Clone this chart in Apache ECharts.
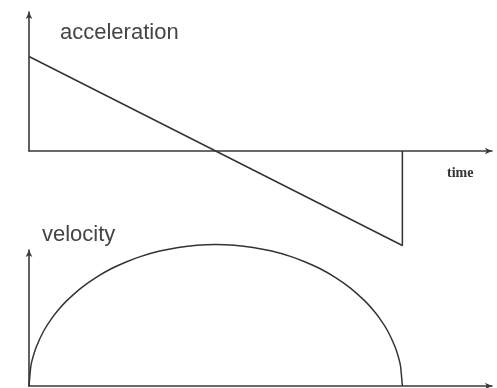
<!DOCTYPE html>
<html lang="en">
<head>
    <meta charset="UTF-8">
    <title>acceleration / velocity</title>
    <script src="https://cdn.jsdelivr.net/npm/echarts@6/dist/echarts.min.js"></script>
</head>
<body style="margin:0;background:#fff">
<div id="pic1" style="width:497px;height:388px"></div>
<script>
    // data (time 0..100)
    var accelTime = [0, 100, 100];
    var accelValue = [68, -68, 0];
    var velTime = [0, 0.5, 1, 2, 4, 6, 8, 10, 14, 18, 22, 26, 30, 35, 40, 45, 50,
        55, 60, 65, 70, 74, 78, 82, 86, 90, 92, 94, 96, 98, 99, 99.5, 100];
    var velValue = [0, 14.7, 20.7, 29.1, 40.8, 49.4, 56.4, 62.4, 72.2, 79.9, 86.2, 91.2, 95.3, 99.2, 101.9, 103.5, 104,
        103.5, 101.9, 99.2, 95.3, 91.2, 86.2, 79.9, 72.2, 62.4, 56.4, 49.4, 40.8, 29.1, 20.7, 14.7, 0];
    var titles = ['acceleration', 'velocity'];
    var xName = 'time';

    function pairs(xs, ys) {
        var out = [];
        for (var i = 0; i < xs.length; i++) out.push([xs[i], ys[i]]);
        return out;
    }

    var myCharts1 = echarts.init(document.getElementById('pic1'));

    var axisLine = {
        show: true,
        onZero: false,
        symbol: ['none', 'arrow'],
        symbolSize: [5, 7],
        lineStyle: {color: '#3a3a3a', width: 1.6}
    };
    var hidden = {
        axisTick: {show: false},
        axisLabel: {show: false},
        splitLine: {show: false}
    };

    var option1 = {
        backgroundColor: '#fff',
        animation: false,
        title: [
            {text: titles[0], left: 55, top: 17, padding: 5,
                textStyle: {color: '#444', fontSize: 22, fontWeight: 'normal', fontFamily: 'Liberation Sans'}},
            {text: titles[1], left: 37, top: 219, padding: 5,
                textStyle: {color: '#444', fontSize: 22, fontWeight: 'normal', fontFamily: 'Liberation Sans'}},
            {text: xName, left: 442, top: 161, padding: 5,
                textStyle: {color: '#333', fontSize: 14, fontWeight: 'bold', fontFamily: 'Liberation Serif'}}
        ],
        grid: [
            {left: 29, top: 12, width: 463, height: 139},
            {left: 29, top: 250, width: 463, height: 136}
        ],
        xAxis: [
            Object.assign({type: 'value', gridIndex: 0, min: 0, max: 124, axisLine: axisLine}, hidden),
            Object.assign({type: 'value', gridIndex: 1, min: 0, max: 124, axisLine: axisLine}, hidden)
        ],
        yAxis: [
            Object.assign({type: 'value', gridIndex: 0, min: 0, max: 100, axisLine: axisLine}, hidden),
            Object.assign({type: 'value', gridIndex: 1, min: 0, max: 100, axisLine: axisLine}, hidden)
        ],
        series: [
            {
                name: titles[0],
                type: 'line',
                xAxisIndex: 0,
                yAxisIndex: 0,
                clip: false,
                showSymbol: false,
                symbol: 'none',
                lineStyle: {color: '#333', width: 1.5},
                data: pairs(accelTime, accelValue)
            },
            {
                name: titles[1],
                type: 'line',
                xAxisIndex: 1,
                yAxisIndex: 1,
                clip: false,
                showSymbol: false,
                symbol: 'none',
                smooth: 0.2,
                lineStyle: {color: '#333', width: 1.5},
                data: pairs(velTime, velValue)
            }
        ]
    };

    myCharts1.setOption(option1, true);
</script>
</body>
</html>
